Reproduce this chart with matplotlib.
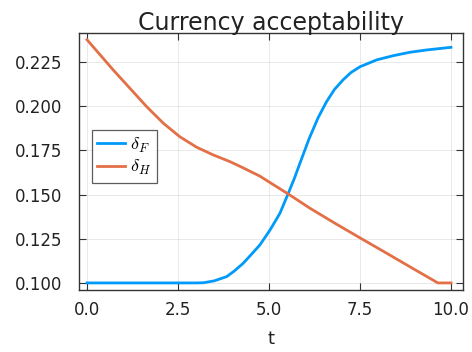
import matplotlib
matplotlib.use("Agg")
import matplotlib.pyplot as plt

plt.rcParams["mathtext.fontset"] = "cm"
plt.rcParams["font.family"] = ["DejaVu Sans"]

t_F = [0.0, 1.0, 2.0, 3.0, 3.2, 3.5, 3.84, 4.05, 4.29, 4.5, 4.75, 5.03,
       5.3, 5.53, 5.7, 5.85, 6.1, 6.35, 6.58, 6.8, 7.04, 7.25, 7.5, 7.96,
       8.42, 8.87, 9.33, 10.0]
delta_F = [0.100, 0.100, 0.100, 0.100, 0.1001, 0.1012, 0.1036, 0.1068,
           0.1111, 0.1158, 0.1215, 0.130, 0.1394, 0.1507, 0.1593, 0.1677,
           0.1815, 0.1935, 0.2025, 0.2095, 0.2150, 0.2190, 0.2223, 0.2262,
           0.2286, 0.2305, 0.2318, 0.2333]

t_H = [0.0, 0.72, 1.18, 1.64, 2.10, 2.55, 3.01, 3.47, 3.93, 4.29, 4.75,
       5.12, 5.53, 6.13, 6.8, 7.5, 8.2, 8.9, 9.64, 10.0]
delta_H = [0.2376, 0.2205, 0.2101, 0.1997, 0.1903, 0.1827, 0.1768, 0.1724,
           0.1686, 0.1651, 0.1604, 0.1556, 0.1503, 0.1422, 0.1339, 0.1255,
           0.1172, 0.1088, 0.1000, 0.1000]

x_ticks = [0.0, 2.5, 5.0, 7.5, 10.0]
y_ticks = [0.100, 0.125, 0.150, 0.175, 0.200, 0.225]

fig = plt.figure(figsize=(4.72, 3.52), dpi=100)
ax = fig.add_axes([79 / 472, 62 / 352, 384 / 472, 257 / 352])

ax.plot(t_F, delta_F, color="#009AFA", lw=2.0, label=r"$\delta_F$")
ax.plot(t_H, delta_H, color="#E36F47", lw=2.0, label=r"$\delta_H$")

ax.set_xlim(-0.22, 10.33)
ax.set_ylim(0.096, 0.2414)
ax.set_xticks(x_ticks)
ax.set_xticklabels([f"{v:.1f}" for v in x_ticks])
ax.set_yticks(y_ticks)
ax.set_yticklabels([f"{v:.3f}" for v in y_ticks])

ax.grid(True, color="black", alpha=0.1, lw=0.6)
ax.tick_params(direction="in", length=5, width=0.8, color="#333333",
               top=True, right=True, labelsize=12, labelcolor="#222222")
ax.tick_params(axis="y", pad=12)
ax.tick_params(axis="x", pad=8)
for s in ax.spines.values():
    s.set_color("#333333")
    s.set_linewidth(1.0)

ax.set_title("Currency acceptability", fontsize=17, color="#222222", pad=2)
ax.set_xlabel("t", fontsize=13, color="#222222", labelpad=8)

leg = ax.legend(loc="upper left", bbox_to_anchor=(0.034, 0.622), fontsize=13,
                frameon=True, fancybox=False, handlelength=1.5,
                handletextpad=0.3, borderpad=0.3, labelspacing=0.2,
                borderaxespad=0)
leg.get_frame().set_edgecolor("#333333")
leg.get_frame().set_linewidth(0.9)

fig.savefig("out.png", dpi=100)
